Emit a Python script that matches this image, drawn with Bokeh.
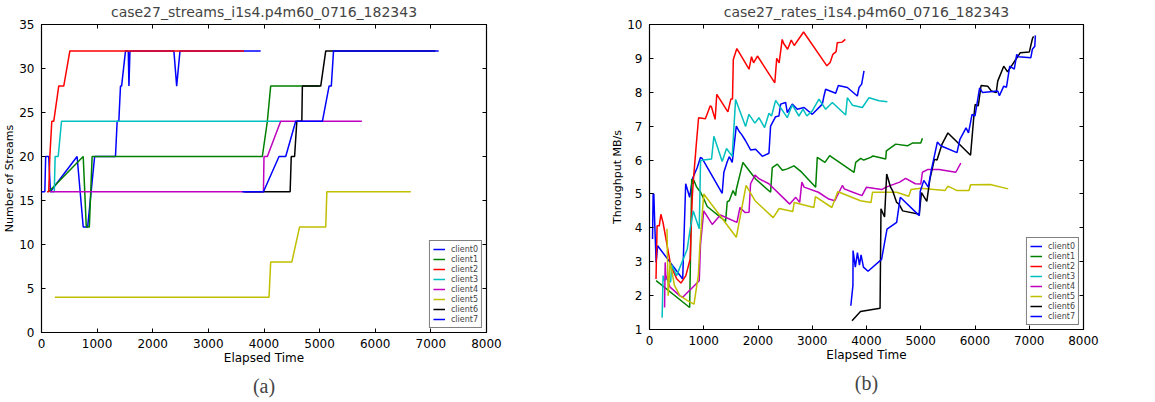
from bokeh.plotting import figure
from bokeh.models import Legend, LegendItem, LinearAxis, Title, SingleIntervalTicker, Range1d
from bokeh.layouts import row
from bokeh.embed import file_html
from bokeh.resources import INLINE

clients = ["client0", "client1", "client2", "client3", "client4", "client5", "client6", "client7"]
colors = ["#0000ff", "#008000", "#ff0000", "#00bfbf", "#bf00bf", "#bfbf00", "#000000", "#0000ff"]

# ---------------- streams (a) ----------------
s0_x = [0, 60, 75, 130, 160, 640, 750, 830, 955, 1330, 1360, 1390, 1420, 1440, 1510, 1560, 1572, 1590, 2380, 2430, 2490, 3940]
s0_y = [16, 16, 20, 20, 16, 20, 12, 12, 20, 20, 24, 24, 28, 28, 32, 32, 28, 32, 32, 28, 32, 32]
s1_x = [130, 750, 805, 860, 910, 3970, 4060, 4120, 5000]
s1_y = [16, 20, 12, 12, 20, 20, 24, 28, 28]
s2_x = [100, 130, 150, 185, 220, 310, 400, 510, 3640]
s2_y = [16, 16, 20, 24, 24, 28, 28, 32, 32]
s3_x = [160, 230, 245, 300, 360, 4300]
s3_y = [16, 16, 20, 20, 24, 24]
s4_x = [150, 3990, 4000, 4060, 4300, 5760]
s4_y = [16, 16, 20, 20, 24, 24]
s5_x = [240, 4090, 4120, 4500, 4640, 5110, 5130, 6640]
s5_y = [4, 4, 8, 8, 12, 12, 16, 16]
s6_x = [3650, 4470, 4490, 4550, 4590, 4680, 4690, 5020, 5110, 7080]
s6_y = [16, 16, 20, 20, 24, 24, 28, 28, 32, 32]
s7_x = [3610, 3990, 4270, 4390, 4570, 5050, 5170, 5210, 5250, 7140]
s7_y = [16, 16, 20, 20, 24, 24, 28, 28, 32, 32]

# ---------------- rates (b) ----------------
r0_x = [56, 67, 80, 95, 122, 150, 612, 667, 740, 790, 880, 941, 970, 1340, 1371, 1433, 1470, 1525, 1600, 1650, 1700, 1771, 1863, 1956, 2079, 2202, 2232, 2325, 2386, 2417, 2509, 2540, 2632, 2724, 2850, 3001, 3186, 3216, 3247, 3432, 3481, 3647, 3831, 3862, 3911, 3954]
r0_y = [3.67, 5.0, 5.0, 4.2, 2.98, 3.47, 2.49, 5.3, 4.9, 5.44, 5.78, 6.08, 6.05, 5.02, 5.64, 5.95, 6.1, 5.93, 7.0, 6.85, 6.75, 6.57, 6.3, 6.32, 6.11, 6.2, 7.0, 7.28, 7.3, 7.65, 7.7, 7.4, 7.65, 7.5, 7.55, 7.35, 7.65, 7.89, 8.09, 7.97, 8.2, 8.14, 7.89, 8.14, 8.24, 8.63]
r1_x = [122, 740, 750, 778, 800, 818, 870, 941, 1002, 1064, 1402, 1433, 1470, 1540, 1587, 1600, 1722, 1956, 2232, 2263, 2355, 2450, 2540, 2663, 2800, 3063, 3093, 3235, 3321, 3770, 3801, 3893, 3950, 4077, 4120, 4354, 4366, 4539, 4754, 4846, 5000, 5031]
r1_y = [2.44, 1.65, 2.6, 5.44, 5.3, 5.4, 5.2, 5.05, 4.85, 4.63, 4.19, 4.77, 4.8, 5.1, 4.95, 5.13, 5.93, 5.44, 5.05, 5.78, 5.88, 5.7, 5.74, 5.83, 5.65, 5.2, 6.08, 5.93, 6.13, 5.64, 5.93, 6.05, 6.0, 6.08, 6.12, 6.03, 6.27, 6.47, 6.42, 6.5, 6.5, 6.64]
r2_x = [120, 140, 180, 210, 250, 390, 500, 580, 670, 750, 770, 790, 810, 860, 905, 1030, 1120, 1140, 1210, 1240, 1445, 1500, 1530, 1545, 1610, 1835, 1880, 1918, 1990, 2310, 2345, 2390, 2446, 2474, 2546, 2613, 2668, 2840, 3270, 3330, 3380, 3440, 3460, 3550, 3610]
r2_y = [2.49, 4.06, 4.06, 4.4, 4.15, 2.9, 2.5, 2.37, 2.59, 3.08, 4.06, 4.95, 5.43, 6.41, 7.25, 7.22, 7.6, 7.58, 7.2, 7.94, 7.42, 7.8, 7.8, 8.97, 9.29, 8.68, 9.05, 8.87, 9.07, 8.28, 9.0, 8.87, 9.56, 9.44, 9.27, 9.54, 9.38, 9.78, 8.78, 8.88, 9.12, 9.2, 9.46, 9.48, 9.56]
r3_x = [233, 250, 270, 300, 390, 410, 500, 695, 750, 806, 917, 941, 1000, 1144, 1187, 1340, 1420, 1525, 1587, 1771, 1833, 1943, 2017, 2122, 2202, 2250, 2325, 2540, 2632, 2755, 2830, 2900, 3000, 3124, 3247, 3370, 3616, 3647, 3740, 3924, 4047, 4231, 4385]
r3_y = [1.35, 2.59, 2.45, 2.5, 2.4, 2.9, 2.59, 3.37, 3.97, 4.5, 3.97, 5.98, 6.0, 6.03, 6.7, 5.96, 6.34, 6.11, 7.79, 6.99, 7.35, 7.09, 7.25, 6.96, 7.38, 7.3, 7.76, 7.25, 7.63, 7.3, 7.5, 7.3, 7.45, 7.8, 7.5, 7.7, 7.33, 7.84, 7.62, 7.55, 7.84, 7.75, 7.72]
r4_x = [278, 289, 300, 380, 556, 612, 917, 940, 1000, 1020, 1156, 1307, 1612, 1668, 1760, 1835, 1863, 1945, 2017, 2200, 2585, 2696, 2768, 2808, 2850, 3113, 3305, 3417, 3555, 3590, 3750, 3917, 4000, 4278, 4361, 4611, 4722, 4900, 5000, 5031, 5123, 5338, 5646, 5738]
r4_y = [1.65, 2.98, 2.6, 2.25, 2.0, 1.95, 2.44, 3.5, 4.5, 4.45, 4.1, 4.38, 4.16, 4.6, 4.45, 4.46, 5.3, 5.56, 5.45, 5.3, 4.7, 4.9, 4.75, 5.35, 5.2, 5.05, 4.85, 4.8, 5.25, 5.15, 5.05, 4.95, 5.2, 5.13, 5.2, 5.35, 5.46, 5.3, 5.29, 5.64, 5.72, 5.72, 5.64, 5.91]
r5_x = [322, 330, 345, 380, 460, 560, 700, 820, 900, 930, 1000, 1600, 1780, 1945, 2280, 2390, 2640, 2668, 3030, 3058, 3361, 3472, 3500, 3889, 4083, 4111, 4556, 4778, 4822, 5000, 5446, 5501, 5668, 5890, 5918, 6280, 6613]
r5_y = [3.97, 3.2, 2.0, 3.0, 2.3, 2.0, 1.85, 1.75, 2.6, 3.5, 5.0, 3.72, 5.25, 4.8, 4.3, 4.57, 4.48, 4.75, 4.6, 4.92, 4.6, 5.07, 5.05, 4.8, 4.75, 5.05, 5.05, 4.93, 5.13, 5.17, 5.1, 5.23, 5.1, 5.1, 5.27, 5.28, 5.15]
r6_x = [3733, 3889, 4250, 4267, 4333, 4372, 4444, 4480, 4556, 4600, 4667, 4973, 5012, 5112, 5168, 5251, 5300, 5390, 5501, 5918, 5974, 6002, 6060, 6112, 6235, 6300, 6391, 6419, 6530, 6600, 6836, 7002, 7058, 7080]
r6_y = [1.26, 1.53, 1.63, 4.56, 4.32, 5.59, 5.2, 5.1, 4.75, 4.7, 4.5, 4.4, 5.04, 4.78, 5.43, 6.02, 6.0, 6.46, 6.8, 6.14, 7.2, 7.64, 7.6, 8.2, 8.18, 8.04, 7.99, 8.33, 8.77, 8.6, 9.17, 9.19, 9.58, 9.65]
r7_x = [3711, 3750, 3752, 3794, 3833, 3870, 3900, 3944, 4028, 4278, 4378, 4556, 4622, 4973, 4990, 5056, 5139, 5195, 5306, 5350, 5400, 5668, 5720, 5835, 5880, 5946, 6000, 6085, 6140, 6419, 6450, 6530, 6580, 6641, 6724, 6769, 6800, 7030, 7058, 7102, 7113]
r7_y = [1.7, 2.3, 3.33, 2.84, 3.27, 2.9, 3.2, 2.84, 2.72, 3.07, 3.96, 4.16, 4.9, 4.36, 5.07, 5.4, 5.2, 5.7, 6.53, 6.45, 6.4, 6.22, 6.6, 6.95, 6.8, 7.35, 7.3, 8.13, 7.99, 8.04, 7.9, 8.18, 8.15, 8.77, 8.68, 9.12, 9.05, 9.02, 9.27, 9.36, 9.68]

streams = [(s0_x, s0_y), (s1_x, s1_y), (s2_x, s2_y), (s3_x, s3_y),
           (s4_x, s4_y), (s5_x, s5_y), (s6_x, s6_y), (s7_x, s7_y)]
rates = [(r0_x, r0_y), (r1_x, r1_y), (r2_x, r2_y), (r3_x, r3_y),
         (r4_x, r4_y), (r5_x, r5_y), (r6_x, r6_y), (r7_x, r7_y)]

FONT = "DejaVu Sans"


def make_panel(title, series, y_range, y_step, ylabel, sub, fw, fh, mb_left, mb_right):
    p = figure(output_backend="svg", toolbar_location=None,
               frame_width=fw, frame_height=fh,
               x_range=Range1d(0, 8000), y_range=Range1d(*y_range),
               min_border_left=mb_left, min_border_right=mb_right,
               min_border_top=0, min_border_bottom=0,
               background_fill_color="white", border_fill_color="white")
    p.title.text = title
    p.title.align = "center"
    p.title.text_font = FONT
    p.title.text_font_size = "14px"
    p.title.text_font_style = "normal"
    p.title.standoff = 2
    p.outline_line_color = "black"
    p.outline_line_width = 1.2
    p.grid.visible = False

    p.xaxis.ticker = SingleIntervalTicker(interval=1000)
    p.yaxis.ticker = SingleIntervalTicker(interval=y_step)
    p.xaxis.axis_label = "Elapsed Time"
    p.yaxis.axis_label = ylabel
    for ax in (p.xaxis[0], p.yaxis[0]):
        ax.major_label_text_font = FONT
        ax.major_label_text_font_size = "12px"
        ax.major_label_text_color = "black"
        ax.axis_label_text_font = FONT
        ax.axis_label_text_font_style = "normal"
        ax.axis_label_text_color = "black"
        ax.major_tick_in = 4
        ax.major_tick_out = 0
        ax.minor_tick_line_color = None
        ax.axis_line_color = None
        ax.major_tick_line_color = "black"
        ax.axis_label_standoff = 0
    p.xaxis.major_label_standoff = 2
    p.yaxis.major_label_standoff = 3
    p.xaxis.axis_label_text_font_size = "12px"
    p.yaxis.axis_label_text_font_size = "11px"

    # tick marks (inward) on the top and right edges, without labels
    top = LinearAxis(ticker=SingleIntervalTicker(interval=1000), major_tick_in=4, major_tick_out=0,
                     minor_tick_line_color=None, axis_line_color=None,
                     major_label_text_color=None, major_label_text_font_size="1px",
                     major_label_standoff=0)
    right = LinearAxis(ticker=SingleIntervalTicker(interval=y_step), major_tick_in=4, major_tick_out=0,
                       minor_tick_line_color=None, axis_line_color=None,
                       major_label_text_color=None, major_label_text_font_size="1px",
                       major_label_standoff=0)
    p.add_layout(top, "above")
    p.add_layout(right, "right")

    items = []
    for (xs, ys), name, col in zip(series, clients, colors):
        r = p.line(xs, ys, line_color=col, line_width=1.5)
        items.append(LegendItem(label=name, renderers=[r]))
    leg = Legend(items=items, location="bottom_right",
                 label_text_font=FONT, label_text_font_size="8px",
                 label_height=10, glyph_height=10, glyph_width=12,
                 label_standoff=6, spacing=0, padding=3, margin=4,
                 border_line_color="black", border_line_width=1.2,
                 background_fill_alpha=1.0)
    p.add_layout(leg, "center")

    p.add_layout(Title(text=sub, align="center", text_font="Liberation Serif",
                       text_font_size="20px", text_font_style="normal", standoff=10), "below")
    return p


pa = make_panel("case27_streams_i1s4.p4m60_0716_182343", streams, (0, 35), 5,
                "Number of Streams", "(a)", 445, 308, 0, 20)
pb = make_panel("case27_rates_i1s4.p4m60_0716_182343", rates, (1, 10), 1,
                "Throughput MB/s", "(b)", 434, 305, 143, 20)

layout = row(pa, pb)
open("out.html", "w").write(file_html(layout, INLINE))
